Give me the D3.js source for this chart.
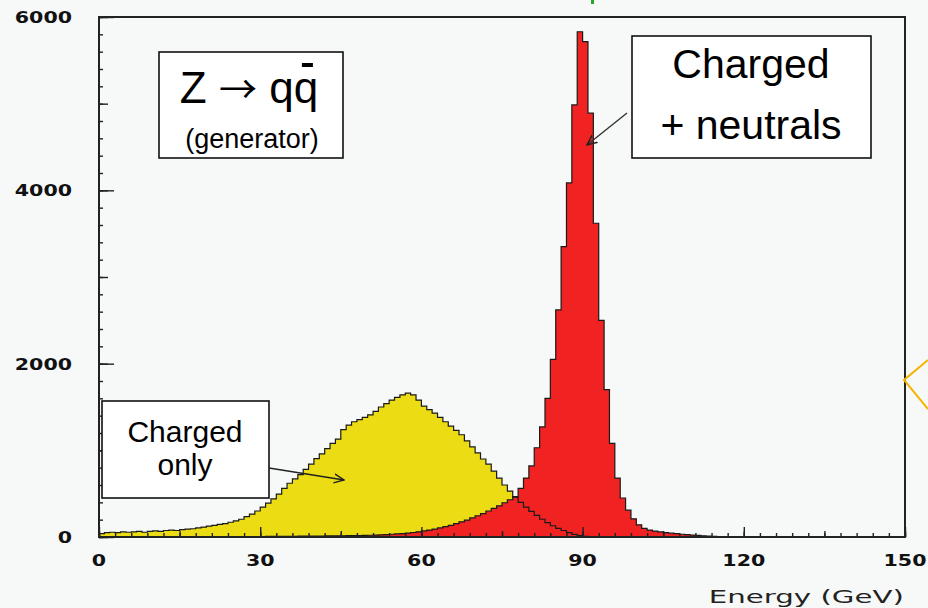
<!DOCTYPE html>
<html>
<head>
<meta charset="utf-8">
<script src="https://cdn.jsdelivr.net/npm/d3@7"></script>
<style>
body { margin: 0; background: #f7f8f8; }
svg { display: block; }
</style>
</head>
<body>
<div id="plot"></div>
<script>
var margin = { top: 17, right: 23, bottom: 71, left: 99 };
var width = 928 - margin.left - margin.right;
var height = 608 - margin.top - margin.bottom;

// 1 GeV bins, 0 - 150 GeV
var binLow = 0;
var binWidth = 1;

// Charged only (yellow)
var chargedOnly = [
    40, 50, 55, 50, 60, 55, 60, 65, 55, 65,
    70, 65, 75, 80, 75, 85, 90, 95, 105, 115,
    125, 135, 145, 155, 170, 185, 205, 235, 265, 300,
    345, 390, 440, 495, 560, 620, 670, 720, 780, 840,
    905, 960, 1020, 1080, 1130, 1240, 1290, 1330, 1355, 1380,
    1410, 1450, 1500, 1540, 1580, 1610, 1640, 1660, 1640, 1580,
    1510, 1470, 1430, 1380, 1330, 1280, 1230, 1180, 1110, 1040,
    970, 900, 840, 760, 680, 600, 530, 460, 400, 345,
    295, 250, 205, 165, 130, 100, 75, 50, 30, 15,
    8, 4, 0, 0, 0, 0, 0, 0, 0, 0,
    0, 0, 0, 0, 0, 0, 0, 0, 0, 0,
    0, 0, 0, 0, 0, 0, 0, 0, 0, 0,
    0, 0, 0, 0, 0, 0, 0, 0, 0, 0,
    0, 0, 0, 0, 0, 0, 0, 0, 0, 0,
    0, 0, 0, 0, 0, 0, 0, 0, 0, 0
];

// Charged + neutrals (red)
var chargedNeutrals = [
    0, 0, 0, 0, 0, 0, 0, 0, 0, 0,
    2, 2, 2, 2, 2, 3, 3, 3, 3, 3,
    4, 4, 4, 4, 5, 5, 5, 5, 6, 6,
    6, 7, 7, 7, 8, 8, 8, 9, 9, 10,
    10, 11, 12, 12, 13, 14, 15, 16, 17, 18,
    20, 22, 25, 28, 32, 36, 40, 45, 52, 60,
    70, 80, 92, 105, 120, 135, 155, 175, 195, 220,
    245, 270, 300, 330, 360, 395, 430, 465, 560, 680,
    820, 1030, 1270, 1600, 2050, 2620, 3350, 4085, 4985, 5830,
    5715, 4890, 3620, 2500, 1700, 1080, 680, 450, 310, 210,
    140, 100, 80, 68, 58, 50, 44, 38, 32, 27,
    22, 18, 14, 10, 7, 5, 3, 2, 1, 0,
    0, 0, 0, 0, 0, 0, 0, 0, 0, 0,
    0, 0, 0, 0, 0, 0, 0, 0, 0, 0,
    0, 0, 0, 0, 0, 0, 0, 0, 0, 0
];

var xTickValues = [0, 30, 60, 90, 120, 150];
var yTickValues = [0, 2000, 4000, 6000];
var xLabel = "Energy (GeV)";

var svg = d3
    .select("#plot")
    .append("svg")
    .attr("width", width + margin.left + margin.right)
    .attr("height", height + margin.top + margin.bottom)
    .style("background", "#f7f8f8");

var g = svg
    .append("g")
    .attr("transform", "translate(" + margin.left + "," + margin.top + ")");

var x = d3.scaleLinear().domain([0, 150]).range([0, width]);
var y = d3.scaleLinear().domain([0, 6000]).range([height, 0]);

var toSteps = function (values) {
    var pts = values.map((v, i) => ({ e: binLow + i * binWidth, v: v }));
    pts.push({ e: binLow + values.length * binWidth, v: values[values.length - 1] });
    return pts;
};

var area = d3
    .area()
    .curve(d3.curveStepAfter)
    .x((d) => x(d.e))
    .y0(y(0))
    .y1((d) => y(d.v));
var line = d3
    .line()
    .curve(d3.curveStepAfter)
    .x((d) => x(d.e))
    .y((d) => y(d.v));

var yellowPts = toSteps(chargedOnly);
var redPts = toSteps(chargedNeutrals);

g.append("path").attr("d", area(yellowPts)).attr("fill", "#ecdc14");
g.append("path").attr("d", area(redPts)).attr("fill", "#f02222");
g.append("path")
    .attr("d", line(yellowPts))
    .attr("fill", "none")
    .attr("stroke", "#1a1a1a")
    .attr("stroke-width", 1.2);
g.append("path")
    .attr("d", line(redPts))
    .attr("fill", "none")
    .attr("stroke", "#1a1a1a")
    .attr("stroke-width", 1.2);

// inward ticks
var tickStyle = function (sel) {
    sel.select(".domain").remove();
    sel.selectAll("line").attr("stroke", "#222").attr("stroke-width", 1.4);
};
var addXTicks = function (vals, len) {
    g.append("g")
        .attr("transform", `translate(0, ${height})`)
        .call(d3.axisBottom(x).tickValues(vals).tickSize(-len).tickFormat(""))
        .call(tickStyle);
};
var addYTicks = function (vals, len) {
    g.append("g")
        .call(d3.axisLeft(y).tickValues(vals).tickSize(-len).tickFormat(""))
        .call(tickStyle);
};
addXTicks(d3.range(0, 151, 3), 4);
addXTicks(d3.range(0, 151, 15), 6);
addXTicks(xTickValues, 10);
addYTicks(d3.range(0, 6001, 200), 4);
addYTicks(d3.range(0, 6001, 1000), 9);
addYTicks(yTickValues, 15);

// frame
g.append("rect")
    .attr("x", 0)
    .attr("y", 0)
    .attr("width", width)
    .attr("height", height)
    .attr("fill", "none")
    .attr("stroke", "#222")
    .attr("stroke-width", 2);

// tick labels (wide bold face)
g.selectAll(".xlab")
    .data(xTickValues)
    .enter()
    .append("text")
    .attr("class", "xlab")
    .attr("x", (d) => x(d))
    .attr("y", height + 29)
    .attr("text-anchor", "middle")
    .attr("textLength", (d) => String(d).length * 14.3)
    .attr("lengthAdjust", "spacingAndGlyphs")
    .style("font", "bold 16px 'DejaVu Sans'")
    .style("fill", "#111")
    .text((d) => d);

g.selectAll(".ylab")
    .data(yTickValues)
    .enter()
    .append("text")
    .attr("class", "ylab")
    .attr("x", -27)
    .attr("y", (d) => y(d) + 6)
    .attr("text-anchor", "end")
    .attr("textLength", (d) => String(d).length * 14.3)
    .attr("lengthAdjust", "spacingAndGlyphs")
    .style("font", "bold 16px 'DejaVu Sans'")
    .style("fill", "#111")
    .text((d) => d);

g.append("text")
    .attr("x", x(113.5))
    .attr("y", height + 66)
    .attr("textLength", 195)
    .attr("lengthAdjust", "spacingAndGlyphs")
    .style("font", "18px 'DejaVu Sans'")
    .style("fill", "#222")
    .text(xLabel);

// annotation boxes (page coordinates)
var ann = svg.append("g").style("font-family", "'Liberation Sans', Arial, sans-serif");

var box = function (x0, y0, x1, y1) {
    ann.append("rect")
        .attr("x", x0)
        .attr("y", y0)
        .attr("width", x1 - x0)
        .attr("height", y1 - y0)
        .attr("fill", "#fff")
        .attr("stroke", "#111")
        .attr("stroke-width", 1.6);
};
var label = function (cx, by, size, txt) {
    return ann.append("text")
        .attr("x", cx)
        .attr("y", by)
        .attr("text-anchor", "middle")
        .style("font-size", size + "px")
        .style("fill", "#000")
        .text(txt);
};

box(159, 52, 343, 158);
var zText = ann.append("text")
    .attr("x", 249)
    .attr("y", 103)
    .attr("text-anchor", "middle")
    .style("font-size", "44px")
    .style("fill", "#000");
zText.append("tspan").text("Z ");
zText.append("tspan")
    .style("font-family", "'Noto Sans CJK JP', 'DejaVu Sans', sans-serif")
    .style("font-size", "38px")
    .text("\u2192");
zText.append("tspan").text(" qq");
label(252, 148, 27, "(generator)");
var q2 = zText.node().getExtentOfChar(5);
ann.append("rect")
    .attr("x", q2.x + q2.width / 2 - 4)
    .attr("y", 63)
    .attr("width", 11)
    .attr("height", 4)
    .attr("fill", "#000");

box(632, 36, 871, 158);
label(751, 78, 41, "Charged");
label(751, 139, 41, "+ neutrals");

box(102, 401, 269, 498);
label(185, 442, 30, "Charged");
label(185, 475, 30, "only");

// leader arrows
var defs = svg.append("defs");
defs.append("marker")
    .attr("id", "arr")
    .attr("viewBox", "0 0 10 10")
    .attr("refX", 9)
    .attr("refY", 5)
    .attr("markerWidth", 8)
    .attr("markerHeight", 8)
    .attr("orient", "auto")
    .append("path")
    .attr("d", "M0,1 L9,5 L0,9")
    .attr("fill", "none")
    .attr("stroke", "#222")
    .attr("stroke-width", 1.3);

ann.append("line")
    .attr("x1", 627).attr("y1", 113)
    .attr("x2", 587).attr("y2", 145)
    .attr("stroke", "#333")
    .attr("stroke-width", 1.4)
    .attr("marker-end", "url(#arr)");
ann.append("line")
    .attr("x1", 269).attr("y1", 468)
    .attr("x2", 344).attr("y2", 480)
    .attr("stroke", "#222")
    .attr("stroke-width", 1.4)
    .attr("marker-end", "url(#arr)");

// orange callout edge at right and a green fragment at top
ann.append("path")
    .attr("d", "M928,360 L904,380 L928,409")
    .attr("fill", "none")
    .attr("stroke", "#f5b400")
    .attr("stroke-width", 2);
ann.append("rect")
    .attr("x", 591).attr("y", 0)
    .attr("width", 3).attr("height", 4)
    .attr("fill", "#22aa22");
</script>
</body>
</html>
